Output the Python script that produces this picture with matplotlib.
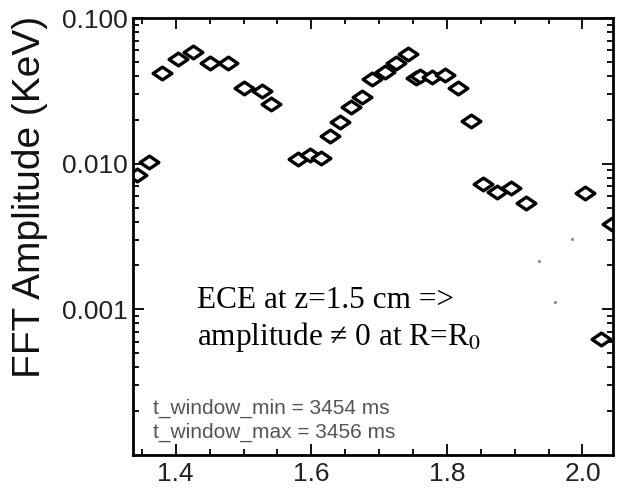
import numpy as np
import matplotlib
matplotlib.use("Agg")
import matplotlib.pyplot as plt
from matplotlib.path import Path
from matplotlib.ticker import FixedLocator, FixedFormatter, MultipleLocator, LogLocator, NullFormatter

# Major radius R (m) and FFT amplitude (keV)
radius = [1.3425, 1.360, 1.380, 1.404, 1.426, 1.450, 1.477, 1.501, 1.528, 1.541,
          1.581, 1.598, 1.615, 1.627, 1.642, 1.659, 1.675, 1.690, 1.708, 1.725,
          1.742, 1.754, 1.760, 1.778, 1.797, 1.816, 1.835, 1.853, 1.874, 1.895,
          1.916, 2.004, 2.028, 2.044]
amplitude = [0.0084, 0.0103, 0.0418, 0.0526, 0.0583, 0.0490, 0.0490, 0.0329, 0.0314, 0.0255,
             0.0107, 0.0115, 0.0109, 0.0156, 0.0192, 0.0243, 0.0285, 0.0383, 0.0425, 0.0490,
             0.0569, 0.0386, 0.0398, 0.0392, 0.0407, 0.0329, 0.0195, 0.00728, 0.00636, 0.00678,
             0.00538, 0.00631, 0.00063, 0.00385]

# Low-level points shown as small dots
dot_radius = [1.936, 1.959, 1.984]
dot_amplitude = [0.00216, 0.00113, 0.00304]

x_ticks = [1.4, 1.6, 1.8, 2.0]
x_tick_labels = ["1.4", "1.6", "1.8", "2.0"]
y_ticks = [0.001, 0.010, 0.100]
y_tick_labels = ["0.001", "0.010", "0.100"]

fig = plt.figure(figsize=(6.19, 4.92), dpi=100)
ax = fig.add_axes([133 / 619, 1 - 455 / 492, 480 / 619, 437 / 492])

# wide open diamond marker
diamond = Path([(-1.0, 0.0), (0.0, 0.68), (1.0, 0.0), (0.0, -0.68), (-1.0, 0.0)],
               [Path.MOVETO, Path.LINETO, Path.LINETO, Path.LINETO, Path.CLOSEPOLY])

ax.plot(radius, amplitude, linestyle="none", marker=diamond, markersize=13.5,
        markerfacecolor="white", markeredgecolor="black", markeredgewidth=2.4)
ax.plot(dot_radius, dot_amplitude, linestyle="none", marker="o", markersize=2.2,
        color="#888888", markeredgewidth=0)

ax.set_yscale("log")
ax.set_xlim(1.337, 2.045)
ax.set_ylim(1e-4, 1e-1)

ax.xaxis.set_major_locator(FixedLocator(x_ticks))
ax.xaxis.set_major_formatter(FixedFormatter(x_tick_labels))
ax.xaxis.set_minor_locator(MultipleLocator(0.05))
ax.yaxis.set_major_locator(FixedLocator(y_ticks))
ax.yaxis.set_major_formatter(FixedFormatter(y_tick_labels))
ax.yaxis.set_minor_locator(LogLocator(base=10, subs=np.arange(2, 10)))
ax.yaxis.set_minor_formatter(NullFormatter())

for sp in ax.spines.values():
    sp.set_linewidth(2.0)

ax.tick_params(which="both", direction="in", top=True, right=True, width=1.3, color="black")
ax.tick_params(which="major", length=8)
ax.tick_params(which="minor", length=4)
ax.tick_params(axis="x", which="major", pad=5, labelsize=19, labelcolor="#222222",
               labelfontfamily="Liberation Sans")
ax.tick_params(axis="y", which="major", pad=4, labelsize=19, labelcolor="#222222",
               labelfontfamily="Liberation Sans")

fig.text(30 / 619, 1 - 197 / 492, "FFT Amplitude (KeV)", rotation=90,
         ha="center", va="center", fontsize=28, family="Liberation Sans", color="#111111")

fig.text(197 / 619, 1 - 300 / 492, "ECE at z=1.5 cm =>", ha="left", va="center",
         fontsize=22.5, family=["Liberation Serif", "DejaVu Serif"], color="black")
fig.text(197 / 619, 1 - 337 / 492, "amplitude \u2260 0 at R=R$_0$", ha="left", va="center",
         fontsize=22.5, family=["Liberation Serif", "DejaVu Serif"], color="black",
         math_fontfamily="stix")

fig.text(153 / 619, 1 - 408 / 492, "t_window_min = 3454 ms", ha="left", va="center",
         fontsize=15, family="Liberation Sans", color="#555555")
fig.text(153 / 619, 1 - 432 / 492, "t_window_max = 3456 ms", ha="left", va="center",
         fontsize=15, family="Liberation Sans", color="#555555")

fig.savefig("out.png", dpi=100)
